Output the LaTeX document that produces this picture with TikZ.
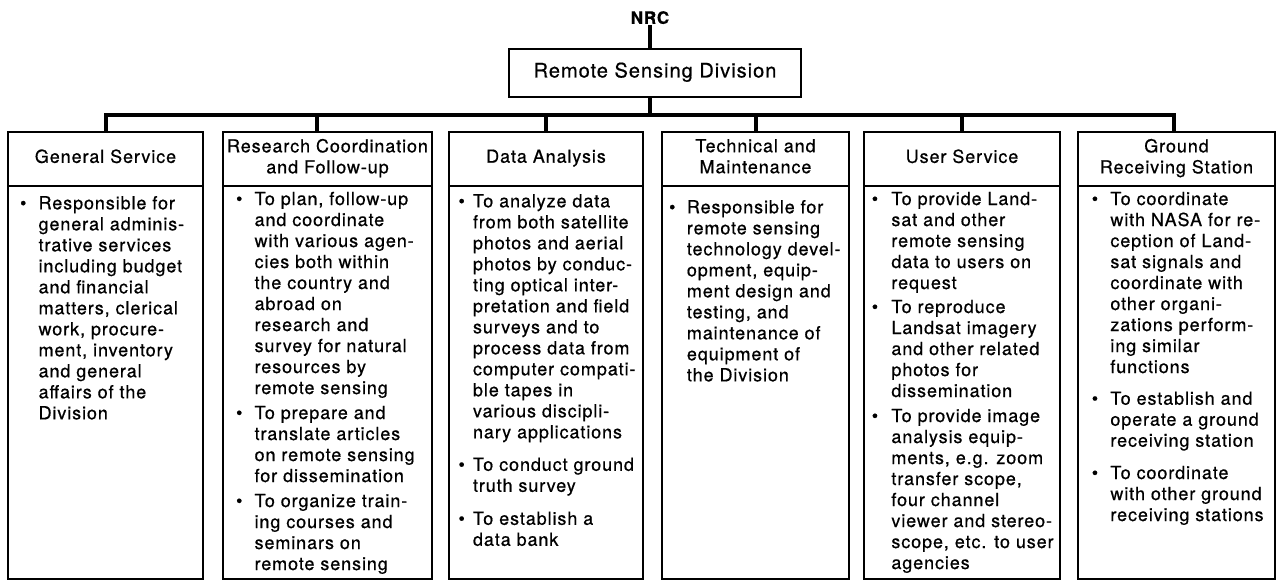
\documentclass[tikz,border=0pt]{standalone}
\usepackage{fontspec}
\setmainfont{TeX Gyre Heros}[LetterSpace=5.0,FakeBold=0.6]
\newlength\bc
\newlength\bt
\newcommand\itm[1]{\par\noindent\makebox[\bt][l]{\hspace*{\dimexpr\bc-3.2pt\relax}\textbullet}\begin{tabular}[t]{@{}l@{}}#1\end{tabular}\par}
\newcommand\gap[1]{\vspace{#1}}
\newcommand\bodybox[5]{\parbox[b][393pt][t]{#1}{\fontsize{18}{21}\selectfont\lineskip=0pt\lineskiplimit=0pt\setlength\bc{#3}\setlength\bt{#4}\vspace*{#2}#5}}
\tikzset{
  conn/.style={line width=4pt},
  hdr/.style={draw, line width=2.4pt, minimum height=54pt, inner sep=0pt, outer sep=0pt,
    align=center, anchor=north west, font=\fontsize{18}{21}\selectfont, text depth=5.7pt},
  bodybx/.style={draw, line width=2.4pt, inner sep=0pt, outer sep=0pt, anchor=north west},
  topbox/.style={draw, line width=2.4pt, minimum width=292pt, minimum height=48pt, inner sep=0pt,
    font=\fontsize{20}{24}\selectfont, text depth=6pt},
}
\begin{document}
\begin{tikzpicture}[x=1pt,y=-1pt]
\useasboundingbox (0,0) rectangle (1281,579);
\fill[white] (0,0) rectangle (1281,579);

\node[font=\fontsize{17}{20}\selectfont\bfseries, inner sep=1pt, text depth=0pt] (nrc) at (650,17.5) {NRC};
\node[topbox] (rsd) at (655,73) {Remote Sensing Division};
\coordinate (bus) at (650,115);

% headers
\node[hdr, minimum width=195pt] (h1) at (8,132) {General Service};
\node[hdr, minimum width=209pt] (h2) at (223,132) {Research Coordination\\and Follow-up};
\node[hdr, minimum width=194pt] (h3) at (449,132) {Data Analysis};
\node[hdr, minimum width=187pt] (h4) at (662,132) {Technical and\\Maintenance};
\node[hdr, minimum width=196pt] (h5) at (864,132) {User Service};
\node[hdr, minimum width=197pt] (h6) at (1078,132) {Ground\\Receiving Station};

% bodies
\node[bodybx] (b1) at (8,186) {\bodybox{195pt}{8.6pt}{15.3pt}{30.6pt}{%
\itm{Responsible for\\general adminis-\\trative services\\including budget\\and financial\\matters, clerical\\work, procure-\\ment, inventory\\and general\\affairs of the\\Division}}};

\node[bodybx] (b2) at (223,186) {\bodybox{209pt}{4.3pt}{16.3pt}{31.6pt}{%
\itm{To plan, follow-up\\and coordinate\\with various agen-\\cies both within\\the country and\\abroad on\\research and\\survey for natural\\resources by\\remote sensing}
\gap{4pt}
\itm{To prepare and\\translate articles\\on remote sensing\\for dissemination}
\gap{4pt}
\itm{To organize train-\\ing courses and\\seminars on\\remote sensing}}};

\node[bodybx] (b3) at (449,186) {\bodybox{194pt}{6.6pt}{12.7pt}{24pt}{%
\itm{To analyze data\\from both satellite\\photos and aerial\\photos by conduc-\\ting optical inter-\\pretation and field\\surveys and to\\process data from\\computer compati-\\ble tapes in\\various discipli-\\nary applications}
\gap{11.5pt}
\itm{To conduct ground\\truth survey}
\gap{12pt}
\itm{To establish a\\data bank}}};

\node[bodybx] (b4) at (662,186) {\bodybox{187pt}{12.6pt}{10.3pt}{24.9pt}{%
\itm{Responsible for\\remote sensing\\technology devel-\\opment, equip-\\ment design and\\testing, and\\maintenance of\\equipment of\\the Division}}};

\node[bodybx] (b5) at (864,186) {\bodybox{196pt}{4.3pt}{11pt}{27.4pt}{%
\itm{To provide Land-\\sat and other\\remote sensing\\data to users on\\request}
\gap{3pt}
\itm{To reproduce\\Landsat imagery\\and other related\\photos for\\dissemination}
\gap{4pt}
\itm{To provide image\\analysis equip-\\ments, e.g. zoom\\transfer scope,\\four channel\\viewer and stereo-\\scope, etc. to user\\agencies}}};

\node[bodybx] (b6) at (1078,186) {\bodybox{197pt}{4.3pt}{17pt}{32.4pt}{%
\itm{To coordinate\\with NASA for re-\\ception of Land-\\sat signals and\\coordinate with\\other organi-\\zations perform-\\ing similar\\functions}
\gap{10.7pt}
\itm{To establish and\\operate a ground\\receiving station}
\gap{11.3pt}
\itm{To coordinate\\with other ground\\receiving stations}}};

% connectors
\draw[conn] (nrc.south) -- (nrc.south |- rsd.north);
\draw[conn] (rsd.south -| nrc) -- (bus);
\draw[conn] (h1.north) |- (bus) -| ([xshift=-3pt]h6.north);
\draw[conn] ([xshift=-11pt]h2.north) -- ([xshift=-11pt]h2.north |- bus);
\draw[conn] (h3.north) -- (h3.north |- bus);
\draw[conn] (h4.north) -- (h4.north |- bus);
\draw[conn] (h5.north) -- (h5.north |- bus);
\end{tikzpicture}
\end{document}
